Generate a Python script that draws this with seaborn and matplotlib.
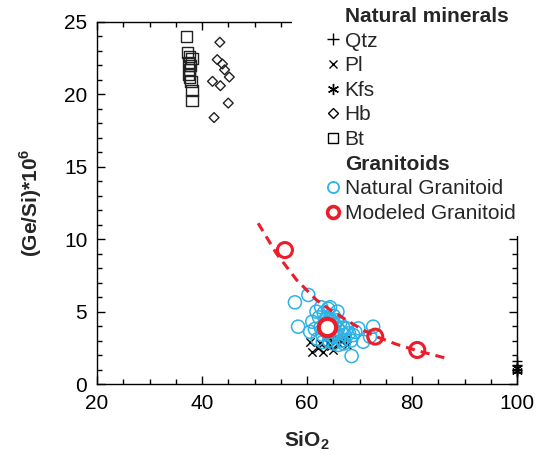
import numpy as np
import pandas as pd
import matplotlib
matplotlib.use("Agg")
import matplotlib.pyplot as plt
from matplotlib.lines import Line2D
from matplotlib.patches import Rectangle
import seaborn as sns

# ---- data: SiO2 (wt%) vs (Ge/Si)*1e6 ----
qtz_sio2 = [100, 100, 100, 100]
qtz_gesi = [0.8, 1.0, 1.3, 1.6]

pl_sio2 = [60.6, 61.0, 62.0, 62.5, 63.0, 64.0, 64.5, 65.0, 65.9, 66.5, 67.6]
pl_gesi = [2.9, 2.2, 2.5, 2.8, 2.2, 2.8, 2.6, 2.35, 2.8, 3.0, 2.7]

kfs_sio2 = [64.5, 66.0, 67.5, 100, 100]
kfs_gesi = [3.2, 3.1, 3.2, 0.9, 1.1]

hb_sio2 = [43.4, 42.9, 43.9, 44.3, 45.2, 42.0, 43.5, 45.0, 42.3]
hb_gesi = [23.6, 22.4, 22.1, 21.7, 21.2, 20.9, 20.6, 19.4, 18.4]

bt_sio2 = [37.0, 37.3, 37.7, 38.1, 37.5, 37.7, 37.6, 37.9, 38.1, 38.1, 37.4, 37.8]
bt_gesi = [24.0, 22.9, 22.6, 22.5, 22.2, 21.7, 21.2, 20.9, 20.3, 19.6, 21.4, 22.0]

nat_sio2 = [61.0, 61.8, 62.3, 62.6, 62.9, 63.2, 63.5, 63.8, 64.0, 64.3,
            64.4, 64.6, 64.9, 65.1, 65.3, 65.5, 65.7, 65.9, 66.1, 66.3,
            66.5, 66.7, 66.9, 67.2, 67.6, 68.0, 68.4, 68.8, 69.2, 69.8,
            70.7, 72.0, 72.6, 68.5, 57.7, 60.25, 58.3, 60.6, 62.0, 63.0,
            64.2, 65.0, 63.7, 62.7, 65.8, 66.0, 67.0, 61.5, 64.8, 63.9]
nat_gesi = [4.3, 5.0, 4.6, 3.9, 3.4, 4.9, 4.2, 3.6, 5.2, 4.5,
            5.3, 3.9, 3.3, 4.7, 4.1, 3.5, 4.4, 3.8, 3.2, 4.2,
            3.6, 3.0, 3.9, 3.4, 3.84, 3.5, 3.0, 3.38, 3.6, 3.84,
            2.92, 3.27, 3.96, 1.93, 5.64, 6.15, 3.96, 3.6, 3.1, 2.9,
            3.0, 2.8, 4.6, 5.3, 5.0, 2.7, 2.8, 3.8, 4.3, 3.9]

mod_sio2 = [55.8, 73.0, 81.0]
mod_gesi = [9.25, 3.27, 2.35]
mod_main_sio2 = [63.75]
mod_main_gesi = [3.96]

trend_sio2 = [50.7, 54.2, 58.0, 61.8, 64.7, 67.6, 70.3, 73.0, 77.0, 81.0, 86.3]
trend_gesi = [11.1, 9.0, 7.2, 5.8, 5.05, 4.4, 3.8, 3.3, 2.75, 2.3, 1.8]

x_ticks = [20, 40, 60, 80, 100]
y_ticks = [0, 5, 10, 15, 20, 25]

CYAN = "#2DB2E6"
RED = "#EC1C2A"

sns.set_style("ticks")
plt.rcParams["font.family"] = ["Liberation Sans", "DejaVu Sans"]
plt.rcParams["mathtext.fontset"] = "custom"
plt.rcParams["mathtext.rm"] = "Liberation Sans"
plt.rcParams["mathtext.bf"] = "Liberation Sans:bold"

fig = plt.figure(figsize=(5.40, 4.61), dpi=100)
ax = fig.add_axes([97 / 540, 77 / 461, 420 / 540, 362 / 461])

def df(x, y):
    return pd.DataFrame({"x": x, "y": y})

sns.scatterplot(data=df(pl_sio2, pl_gesi), x="x", y="y", marker="x", color="black",
                s=6.0 ** 2, linewidth=1.0, ax=ax, zorder=3)
sns.scatterplot(data=df(kfs_sio2, kfs_gesi), x="x", y="y", marker=(6, 2, 0), color="black",
                s=7.0 ** 2, linewidth=1.0, ax=ax, zorder=3, clip_on=False)
sns.scatterplot(data=df(qtz_sio2, qtz_gesi), x="x", y="y", marker="+", color="black",
                s=7.0 ** 2, linewidth=1.0, ax=ax, zorder=3, clip_on=False)
sns.scatterplot(data=df(hb_sio2, hb_gesi), x="x", y="y", marker="D", facecolor="none",
                edgecolor="#222222", s=5.0 ** 2, linewidth=1.0, ax=ax, zorder=3)
sns.scatterplot(data=df(bt_sio2, bt_gesi), x="x", y="y", marker="s", facecolor="none",
                edgecolor="#222222", s=8.0 ** 2, linewidth=1.0, ax=ax, zorder=3)
sns.scatterplot(data=df(nat_sio2, nat_gesi), x="x", y="y", marker="o", facecolor="none",
                edgecolor=CYAN, s=9.4 ** 2, linewidth=1.1, ax=ax, zorder=4)
sns.lineplot(data=df(trend_sio2, trend_gesi), x="x", y="y", sort=False, color=RED,
             linewidth=2.2, linestyle=(0, (3.0, 2.0)), ax=ax, zorder=5)
sns.scatterplot(data=df(mod_sio2, mod_gesi), x="x", y="y", marker="o", facecolor="none",
                edgecolor=RED, s=10.8 ** 2, linewidth=2.2, ax=ax, zorder=6)
sns.scatterplot(data=df(mod_main_sio2, mod_main_gesi), x="x", y="y", marker="o", facecolor="white",
                edgecolor=RED, s=12.5 ** 2, linewidth=3.0, ax=ax, zorder=6)

ax.set_xlim(20, 100)
ax.set_ylim(0, 25)
ax.set_xticks(x_ticks)
ax.set_yticks(y_ticks)
ax.xaxis.set_minor_locator(matplotlib.ticker.MultipleLocator(5))
ax.yaxis.set_minor_locator(matplotlib.ticker.MultipleLocator(1))
ax.tick_params(which="both", direction="in", top=True, right=True, width=1.0,
               colors="black", labelsize=15)
ax.tick_params(which="major", length=6)
ax.tick_params(which="minor", length=3.5)
ax.tick_params(axis="y", pad=7)
ax.tick_params(axis="x", pad=7)
for sp in ax.spines.values():
    sp.set_linewidth(1.0)
    sp.set_color("black")

ax.set_xlabel(r"SiO$_\mathbf{2}$", fontsize=15, fontweight="bold", labelpad=12)
ax.set_ylabel(r"(Ge/Si)*10$^\mathbf{6}$", fontsize=15, fontweight="bold", labelpad=14)

# white panel behind the legend
fig.add_artist(Rectangle((292 / 540, 1 - 236 / 461), 1, 1, transform=fig.transFigure,
                         facecolor="white", edgecolor="none", zorder=1))

blank = Line2D([], [], linestyle="none", marker=None)
handles = [
    blank,
    Line2D([], [], linestyle="none", marker="+", color="black", markersize=8, markeredgewidth=1.0),
    Line2D([], [], linestyle="none", marker="x", color="black", markersize=5.5, markeredgewidth=1.0),
    Line2D([], [], linestyle="none", marker=(6, 2, 0), color="black", markersize=8, markeredgewidth=1.0),
    Line2D([], [], linestyle="none", marker="D", markerfacecolor="none", markeredgecolor="black",
           markersize=5, markeredgewidth=1.0),
    Line2D([], [], linestyle="none", marker="s", markerfacecolor="none", markeredgecolor="black",
           markersize=7.5, markeredgewidth=1.0),
    blank,
    Line2D([], [], linestyle="none", marker="o", markerfacecolor="none", markeredgecolor=CYAN,
           markersize=8, markeredgewidth=1.3),
    Line2D([], [], linestyle="none", marker="o", markerfacecolor="none", markeredgecolor=RED,
           markersize=8.5, markeredgewidth=2.6),
]
labels = ["Natural minerals", "Qtz", "Pl", "Kfs", "Hb", "Bt", "Granitoids",
          "Natural Granitoid", "Modeled Granitoid"]
leg = fig.legend(handles, labels, loc="upper left", bbox_to_anchor=(328 / 540, 1 - 7 / 461),
                 frameon=False, fontsize=15, handlelength=0.5, handletextpad=0.3,
                 labelspacing=0.27, borderpad=0, borderaxespad=0)
leg.set_zorder(6)
for t in leg.get_texts():
    if t.get_text() in ("Natural minerals", "Granitoids"):
        t.set_fontweight("bold")

fig.savefig("out.png", dpi=100)
